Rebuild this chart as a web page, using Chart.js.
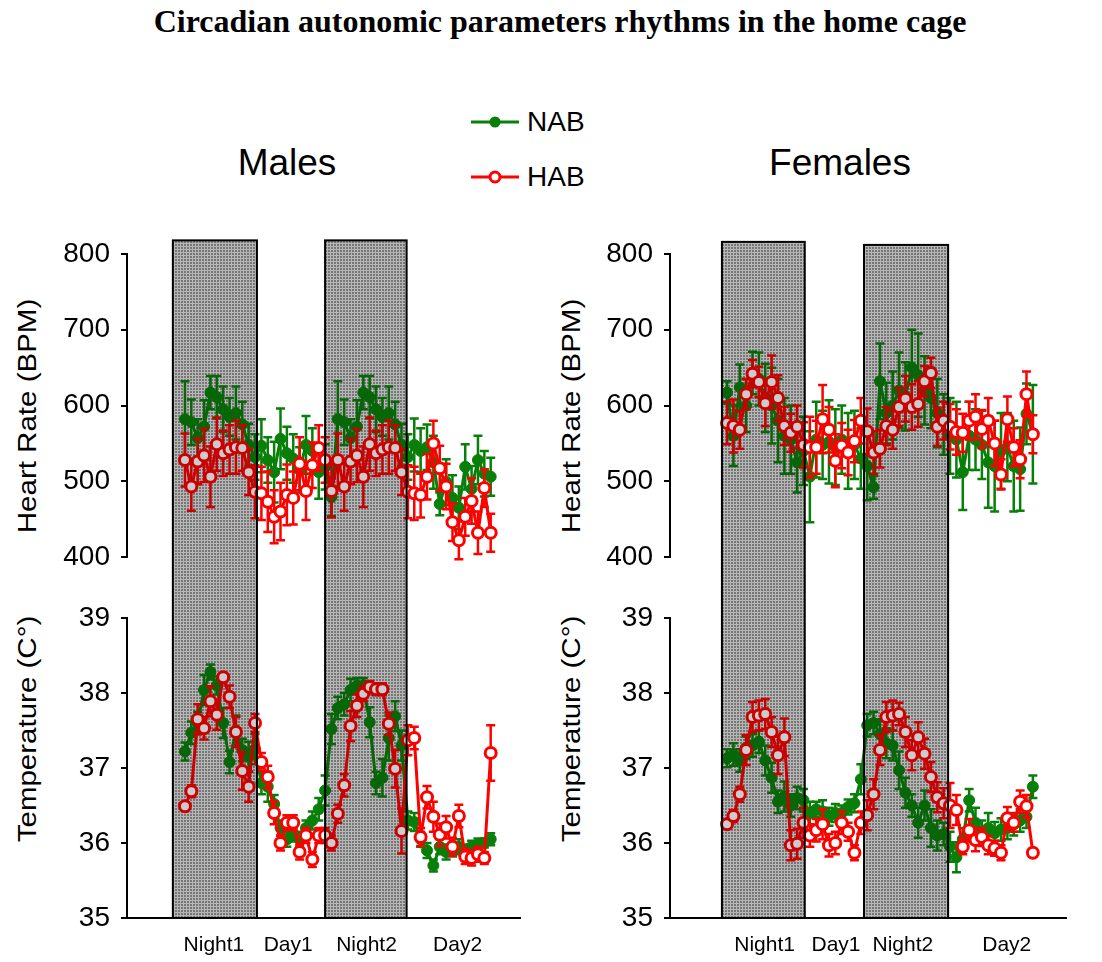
<!DOCTYPE html>
<html>
<head>
<meta charset="utf-8">
<script src="https://cdn.jsdelivr.net/npm/chart.js@4.4.0/dist/chart.umd.min.js"></script>
<style>
  body { margin: 0; background: #fff; }
  #page { position: relative; width: 1102px; height: 962px; overflow: hidden;
          font-family: Arial, "Liberation Sans", sans-serif; color: #000; }
  .abs { position: absolute; white-space: nowrap; }
  #title { left: 0; width: 1120px; top: 3px; text-align: center;
           font: bold 32px "Liberation Serif", "Times New Roman", serif; }
  .panel-title { font-size: 37px; transform: translate(-50%, -50%); }
  .ytitle { font-size: 25px; transform: translate(-50%, -50%) rotate(-90deg) scaleX(1.18); }
  .leg { font-size: 28px; display: flex; align-items: center; transform: translateY(-50%); }
  .leg svg { margin-right: 8px; }
  canvas { position: absolute; }
</style>
</head>
<body>
<div id="page">
  <div id="title" class="abs">Circadian autonomic parameters rhythms in the home cage</div>

  <div class="abs leg" style="left:471px; top:122px;">
    <svg width="48" height="16"><line x1="0" y1="8" x2="48" y2="8" stroke="#087f08" stroke-width="3"/><circle cx="24" cy="8" r="5.5" fill="#087f08"/></svg>NAB
  </div>
  <div class="abs leg" style="left:471px; top:177px;">
    <svg width="48" height="16"><line x1="0" y1="8" x2="48" y2="8" stroke="#ff0000" stroke-width="3"/><circle cx="24" cy="8" r="5" fill="#fff" stroke="#ff0000" stroke-width="3"/></svg>HAB
  </div>

  <div class="abs panel-title" style="left:287px; top:163px;">Males</div>
  <div class="abs panel-title" style="left:840px; top:163px;">Females</div>

  <div class="abs ytitle" style="left:27px; top:416px;">Heart Rate (BPM)</div>
  <div class="abs ytitle" style="left:27px; top:729px;">Temperature (C°)</div>
  <div class="abs ytitle" style="left:571px; top:416px;">Heart Rate (BPM)</div>
  <div class="abs ytitle" style="left:571px; top:729px;">Temperature (C°)</div>

  <canvas id="males" width="550" height="737" style="left:0px; top:225px;"></canvas>
  <canvas id="females" width="546" height="737" style="left:556px; top:225px;"></canvas>
</div>

<script>
// recording hour (one point per hour, two light/dark cycles)
const hours = [0, 1, 2, 3, 4, 5, 6, 7, 8, 9, 10, 11, 12, 13, 14, 15, 16, 17, 18, 19, 20, 21, 22, 23, 24,
  25, 26, 27, 28, 29, 30, 31, 32, 33, 34, 35, 36, 37, 38, 39, 40, 41, 42, 43, 44, 45, 46, 47, 48];

const periodNames = ["Night1", "Day1", "Night2", "Day2"];

// ---- males ----
const maleHrNab = [582, 578, 557, 572, 617, 611, 595, 585, 590, 575, 548, 532,
  547, 528, 512, 556, 537, 530, 515, 548, 540, 512, 519, 479,
  582, 578, 557, 572, 617, 611, 595, 585, 590, 575, 548, 532,
  548, 540, 545, 525, 470, 499, 478, 465, 519, 490, 528, 510, 506];
const maleHrNabErr = [50, 30, 25, 35, 22, 28, 30, 25, 35, 30, 28, 30,
  35, 30, 40, 40, 35, 32, 30, 38, 30, 35, 30, 25,
  50, 30, 25, 35, 22, 28, 30, 25, 35, 30, 28, 30,
  35, 30, 30, 35, 15, 30, 30, 28, 30, 30, 32, 30, 25];
const maleHrHab = [528, 493, 526, 534, 506, 549, 537, 542, 545, 544, 512, 486,
  484, 473, 453, 460, 482, 478, 523, 487, 521, 544, 528, 487,
  528, 493, 526, 534, 506, 549, 537, 542, 545, 544, 512, 486,
  484, 482, 506, 550, 517, 493, 446, 422, 453, 474, 432, 491, 432];
const maleHrHabErr = [35, 32, 30, 35, 40, 35, 30, 32, 35, 30, 30, 35,
  35, 40, 35, 38, 40, 35, 35, 38, 30, 30, 30, 35,
  35, 32, 30, 35, 40, 35, 30, 32, 35, 30, 30, 35,
  35, 30, 30, 30, 30, 30, 25, 25, 25, 30, 28, 25, 25];
const maleTempNab = [37.22, 37.47, 37.6, 38.04, 38.28, 38.1, 37.6, 37.08, 37.5, 37.24, 37.15, 37.25,
  36.8, 36.75, 36.52, 36.2, 36.05, 36.1, 36.05, 36.2, 36.3, 36.45, 36.7, 37.52,
  37.8, 37.85, 38.04, 38.1, 38.1, 37.61, 36.8, 36.87, 37.4, 37.69, 37.3, 36.3,
  36.28, 36.05, 35.9, 35.7, 35.95, 35.88, 35.9, 35.95, 35.9, 35.95, 35.98, 36.0, 36.05];
const maleTempNabErr = [0.12, 0.15, 0.15, 0.2, 0.1, 0.12, 0.2, 0.15, 0.2, 0.15, 0.2, 0.2,
  0.15, 0.2, 0.12, 0.1, 0.1, 0.08, 0.1, 0.1, 0.12, 0.15, 0.2, 0.2,
  0.15, 0.15, 0.15, 0.1, 0.1, 0.2, 0.15, 0.25, 0.3, 0.2, 0.2, 0.12,
  0.12, 0.1, 0.1, 0.08, 0.1, 0.1, 0.08, 0.1, 0.08, 0.08, 0.08, 0.06, 0.08];
const maleTempHab = [36.49, 36.69, 37.65, 37.53, 37.89, 37.71, 38.21, 37.95, 37.48, 36.96, 36.75, 37.6,
  37.08, 36.88, 36.4, 36.0, 36.27, 36.27, 35.88, 36.1, 35.78, 36.1, 36.1, 36.0,
  36.39, 36.77, 37.56, 37.83, 37.99, 38.08, 38.05, 38.05, 37.59, 36.99, 36.16, 37.37,
  37.4, 36.08, 36.61, 36.35, 36.11, 36.21, 35.95, 36.36, 35.82, 35.8, 35.85, 35.8, 37.2];
const maleTempHabErr = [0.05, 0.08, 0.2, 0.15, 0.2, 0.2, 0.05, 0.15, 0.2, 0.25, 0.2, 0.12,
  0.12, 0.15, 0.15, 0.1, 0.1, 0.1, 0.1, 0.1, 0.1, 0.1, 0.1, 0.1,
  0.12, 0.15, 0.2, 0.15, 0.1, 0.08, 0.08, 0.08, 0.15, 0.25, 0.3, 0.2,
  0.15, 0.12, 0.15, 0.2, 0.15, 0.15, 0.12, 0.15, 0.1, 0.1, 0.1, 0.08, 0.37];

// ---- females ----
const femHrNab = [617, 560, 624, 600, 643, 635, 610, 600, 580, 560, 555, 525,
  540, 506, 555, 548, 552, 545, 555, 540, 548, 530, 520, 492,
  632, 590, 600, 620, 612, 650, 640, 620, 610, 590, 575, 560,
  555, 512, 560, 555, 548, 525, 520, 540, 545, 520, 516, 589, 562];
const femHrNabErr = [15, 40, 30, 35, 28, 35, 45, 50, 55, 50, 45, 40,
  45, 60, 50, 45, 55, 50, 45, 50, 45, 40, 45, 15,
  50, 40, 45, 50, 45, 50, 55, 45, 40, 45, 40, 50,
  50, 50, 45, 40, 45, 60, 60, 50, 45, 60, 55, 40, 65];
const femHrHab = [577, 573, 568, 615, 642, 631, 603, 631, 610, 573, 564, 572,
  548, 545, 545, 582, 568, 527, 547, 538, 553, 580, 566, 538,
  543, 573, 568, 598, 609, 598, 602, 632, 643, 572, 580, 572,
  565, 564, 580, 585, 569, 580, 550, 509, 582, 545, 529, 615, 562];
const femHrHabErr = [28, 35, 25, 20, 18, 20, 30, 35, 30, 25, 25, 28,
  30, 40, 35, 45, 30, 35, 30, 30, 28, 30, 30, 28,
  25, 25, 25, 25, 30, 30, 30, 20, 20, 25, 25, 30,
  30, 25, 25, 30, 25, 30, 30, 20, 30, 25, 25, 30, 25];
const femTempNab = [37.13, 37.18, 37.1, 37.27, 37.3, 37.35, 37.1, 36.87, 36.55, 36.62, 36.5, 36.6,
  36.57, 36.4, 36.45, 36.42, 36.35, 36.4, 36.4, 36.48, 36.53, 36.85, 37.57, 37.6,
  37.45, 37.33, 37.3, 36.97, 36.67, 36.5, 36.27, 36.5, 36.2, 36.1, 36.12, 35.95,
  35.81, 36.05, 36.57, 36.27, 36.15, 36.2, 36.13, 36.18, 36.2, 36.25, 36.3, 36.35, 36.75];
const femTempNabErr = [0.12, 0.15, 0.15, 0.15, 0.15, 0.15, 0.2, 0.2, 0.15, 0.2, 0.15, 0.15,
  0.15, 0.15, 0.1, 0.15, 0.12, 0.12, 0.1, 0.1, 0.12, 0.2, 0.15, 0.15,
  0.2, 0.2, 0.2, 0.25, 0.2, 0.15, 0.2, 0.2, 0.25, 0.2, 0.15, 0.2,
  0.2, 0.15, 0.15, 0.2, 0.15, 0.2, 0.15, 0.15, 0.15, 0.15, 0.15, 0.15, 0.15];
const femTempHab = [36.25, 36.36, 36.65, 37.24, 37.68, 37.7, 37.72, 37.48, 37.17, 37.41, 35.97, 35.99,
  36.27, 36.1, 36.17, 36.25, 35.97, 36.0, 36.27, 36.15, 35.87, 36.27, 36.37, 36.65,
  37.24, 37.68, 37.7, 37.72, 37.48, 37.17, 37.41, 37.19, 36.88, 36.61, 36.53, 36.5,
  36.44, 35.95, 36.17, 36.04, 36.08, 35.97, 35.93, 35.87, 36.33, 36.27, 36.55, 36.49, 35.87];
const femTempHabErr = [0.05, 0.08, 0.1, 0.2, 0.2, 0.2, 0.2, 0.2, 0.25, 0.25, 0.2, 0.2,
  0.2, 0.15, 0.15, 0.2, 0.15, 0.15, 0.15, 0.12, 0.1, 0.15, 0.2, 0.2,
  0.2, 0.2, 0.2, 0.15, 0.2, 0.2, 0.2, 0.2, 0.2, 0.2, 0.2, 0.3,
  0.2, 0.1, 0.15, 0.15, 0.12, 0.12, 0.1, 0.1, 0.15, 0.12, 0.15, 0.15, 0.05];

// dark phases (hours) and where the shaded bars stop on the heart-rate scale
const maleNightStart = [-1.9, 22.0];
const maleNightEnd = [11.3, 34.8];
const maleNightTop = [818, 818];
const femNightStart = [-0.8, 21.5];
const femNightEnd = [12.2, 34.7];
const femNightTop = [816, 812];

const malePeriodPos = [4.55, 16.2, 28.5, 42.8];
const femPeriodPos = [5.9, 17.1, 27.6, 43.9];

const GREEN = "#087f08";
const RED = "#ff0000";

Chart.defaults.font.family = "Arial, 'Liberation Sans', sans-serif";
Chart.defaults.color = "#000";

// stippled grey used for the night bars
function makePattern() {
  const c = document.createElement("canvas");
  c.width = 3; c.height = 3;
  const g = c.getContext("2d");
  g.fillStyle = "#959595";
  g.fillRect(0, 0, 3, 3);
  g.fillStyle = "#e4e4e4";
  g.fillRect(0, 0, 3, 1);
  g.fillRect(0, 0, 1, 3);
  return g.createPattern(c, "repeat");
}

const nightBars = {
  id: "nights",
  beforeDatasetsDraw(chart, args, o) {
    const { ctx, scales } = chart;
    if (!o.pattern) o.pattern = makePattern();
    ctx.save();
    o.start.forEach((s, i) => {
      const x1 = scales.x.getPixelForValue(s);
      const x2 = scales.x.getPixelForValue(o.end[i]);
      const y1 = scales.hr.getPixelForValue(o.top[i]);
      const y2 = scales.temp.getPixelForValue(scales.temp.min);
      ctx.fillStyle = o.pattern;
      ctx.fillRect(x1, y1, x2 - x1, y2 - y1);
    });
    ctx.restore();
  },
  afterDatasetsDraw(chart, args, o) {
    const { ctx, scales } = chart;
    ctx.save();
    o.start.forEach((s, i) => {
      const x1 = scales.x.getPixelForValue(s);
      const x2 = scales.x.getPixelForValue(o.end[i]);
      const y1 = scales.hr.getPixelForValue(o.top[i]);
      const y2 = scales.temp.getPixelForValue(scales.temp.min);
      // the bar darkens whatever lies under it
      ctx.globalCompositeOperation = "multiply";
      ctx.fillStyle = "#cccccc";
      ctx.fillRect(x1, y1, x2 - x1, y2 - y1);
      ctx.globalCompositeOperation = "source-over";
      ctx.strokeStyle = "#000";
      ctx.lineWidth = 2;
      ctx.strokeRect(x1, y1, x2 - x1, y2 - y1);
    });
    ctx.restore();
  }
};

const errorBars = {
  id: "errbars",
  beforeDatasetDraw(chart, args) {
    const ds = chart.data.datasets[args.index];
    if (!ds.errors) return;
    const { ctx } = chart;
    const yScale = chart.scales[ds.yAxisID];
    ctx.save();
    ctx.strokeStyle = ds.borderColor;
    ctx.lineWidth = 2.5;
    args.meta.data.forEach((pt, i) => {
      const v = ds.data[i].y, e = ds.errors[i];
      const yTop = yScale.getPixelForValue(v + e);
      const yBot = yScale.getPixelForValue(v - e);
      ctx.beginPath();
      ctx.moveTo(pt.x, yTop); ctx.lineTo(pt.x, yBot);
      ctx.moveTo(pt.x - 4.5, yTop); ctx.lineTo(pt.x + 4.5, yTop);
      ctx.moveTo(pt.x - 4.5, yBot); ctx.lineTo(pt.x + 4.5, yBot);
      ctx.stroke();
    });
    ctx.restore();
  }
};

function series(label, vals, errs, axis, color, open) {
  return {
    label: label,
    data: hours.map((h, i) => ({ x: h, y: vals[i] })),
    errors: errs,
    yAxisID: axis,
    borderColor: color,
    borderWidth: 3,
    tension: 0,
    pointRadius: open ? 5.5 : 5.5,
    pointHoverRadius: 5.5,
    pointBorderWidth: open ? 3 : 1,
    pointBackgroundColor: open ? "#ffffff" : color,
    pointBorderColor: color
  };
}

function yAxis(min, max, step, weight, stackWeight, width) {
  return {
    type: "linear",
    position: "left",
    stack: "col",
    stackWeight: stackWeight,
    weight: weight,
    min: min,
    max: max,
    grid: { display: true, drawOnChartArea: false, drawTicks: true, tickLength: 6, color: "#000", lineWidth: 2 },
    border: { display: true, color: "#000", width: 2 },
    ticks: { stepSize: step, padding: 11, font: { size: 28 }, color: "#000" },
    afterFit: a => { a.width = width; }
  };
}

function makePanel(id, p) {
  const ctx = document.getElementById(id).getContext("2d");
  return new Chart(ctx, {
    type: "line",
    data: {
      datasets: [
        series("HAB", p.hrHab, p.hrHabErr, "hr", RED, true),
        series("NAB", p.hrNab, p.hrNabErr, "hr", GREEN, false),
        series("HAB", p.tHab, p.tHabErr, "temp", RED, true),
        series("NAB", p.tNab, p.tNabErr, "temp", GREEN, false)
      ]
    },
    options: {
      responsive: false,
      animation: false,
      layout: { padding: { top: p.padTop, right: p.padRight, bottom: 0, left: 0 } },
      plugins: {
        legend: { display: false },
        tooltip: { enabled: false },
        nights: { start: p.nStart, end: p.nEnd, top: p.nTop }
      },
      scales: {
        x: {
          type: "linear",
          min: p.xMin,
          max: p.xMax,
          grid: { display: false, drawTicks: false },
          border: { display: true, color: "#000", width: 2 },
          ticks: {
            autoSkip: false, maxRotation: 0, padding: 15,
            font: { size: 21 }, color: "#000",
            callback: (v, i) => periodNames[i]
          },
          afterBuildTicks: a => { a.ticks = p.periodPos.map(v => ({ value: v })); },
          afterFit: a => { a.height = 44; }
        },
        hr: yAxis(400, 800, 100, 3, 303, p.axisLeft),
        gap: {
          type: "linear", position: "left", stack: "col", stackWeight: 61, weight: 2,
          grid: { display: false }, border: { display: false }, ticks: { display: false },
          afterFit: a => { a.width = p.axisLeft; }
        },
        temp: yAxis(35, 39, 1, 1, 300, p.axisLeft)
      }
    },
    plugins: [nightBars, errorBars]
  });
}

makePanel("males", {
  hrNab: maleHrNab, hrNabErr: maleHrNabErr, hrHab: maleHrHab, hrHabErr: maleHrHabErr,
  tNab: maleTempNab, tNabErr: maleTempNabErr, tHab: maleTempHab, tHabErr: maleTempHabErr,
  nStart: maleNightStart, nEnd: maleNightEnd, nTop: maleNightTop,
  periodPos: malePeriodPos,
  xMin: -9.1, xMax: 52.6,
  axisLeft: 127, padTop: 29, padRight: 30
});

makePanel("females", {
  hrNab: femHrNab, hrNabErr: femHrNabErr, hrHab: femHrHab, hrHabErr: femHrHabErr,
  tNab: femTempNab, tNabErr: femTempNabErr, tHab: femTempHab, tHabErr: femTempHabErr,
  nStart: femNightStart, nEnd: femNightEnd, nTop: femNightTop,
  periodPos: femPeriodPos,
  xMin: -8.95, xMax: 53.2,
  axisLeft: 114, padTop: 29, padRight: 36
});
</script>
</body>
</html>
